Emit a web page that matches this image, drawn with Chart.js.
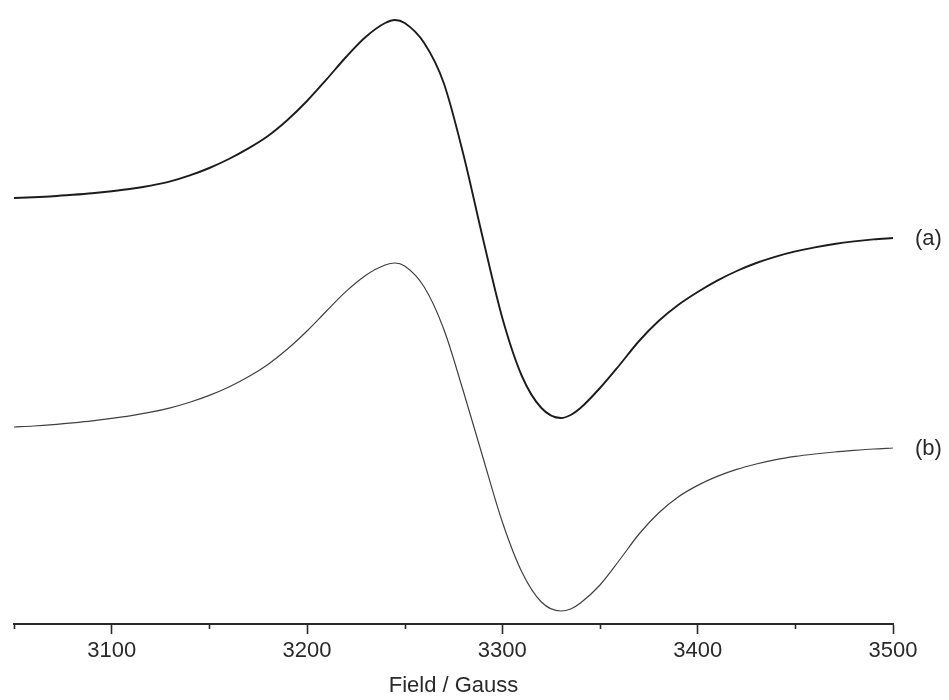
<!DOCTYPE html>
<html>
<head>
<meta charset="utf-8">
<title>EPR spectrum</title>
<script src="https://cdn.jsdelivr.net/npm/chart.js@4.4.1/dist/chart.umd.min.js"></script>
<style>
  html, body { margin: 0; padding: 0; background: #ffffff; }
  #wrap { width: 949px; height: 700px; }
</style>
</head>
<body>
<div id="wrap"><canvas id="epr" width="949" height="700"></canvas></div>
<script>
// Magnetic field (Gauss) at which each intensity is sampled
const field = [3050, 3060, 3070, 3080, 3090, 3100, 3110, 3120, 3130, 3140,
               3150, 3160, 3170, 3180, 3190, 3200, 3210, 3220, 3230, 3240,
               3245, 3250, 3260, 3270, 3280, 3290, 3300, 3310, 3320, 3330,
               3335, 3340, 3350, 3360, 3370, 3380, 3390, 3400, 3410, 3420,
               3430, 3440, 3450, 3460, 3470, 3480, 3490, 3500];

// Experimental first-derivative signal, arbitrary units (offset upward)
const spectrumA = [213, 213.4, 213.9, 214.6, 215.4, 216.4, 217.6, 219.2, 221.3, 224.3,
                   228, 232.5, 237.8, 244, 252, 261.5, 272.3, 283.5, 293.5, 300.5,
                   302, 300.5, 290.5, 270.5, 235, 193, 153, 124, 108, 103,
                   104.5, 108, 118, 129.5, 141.5, 151.5, 159.5, 166, 171.7, 176.5,
                   180.5, 183.7, 186.3, 188.3, 190, 191.3, 192.3, 193];

// Simulated first-derivative signal, arbitrary units
const spectrumB = [98.5, 99, 99.7, 100.6, 101.6, 102.8, 104.2, 105.9, 108.1, 110.9,
                   114.3, 118.5, 123.6, 129.8, 137.5, 146.5, 156.5, 166.3, 174.3, 179.5,
                   180.5, 179, 168.5, 147.5, 116.5, 83.5, 51, 26, 11, 6.5,
                   7.5, 10.5, 19.5, 32, 45, 55.5, 63.5, 69.3, 73.8, 77.3,
                   80, 82.2, 83.8, 85, 86, 86.8, 87.5, 88];

const seriesNames = ['(a)', '(b)'];
const fieldTicks = [3050, 3100, 3150, 3200, 3250, 3300, 3350, 3400, 3450, 3500];
const fieldLabels = ['', '3100', '', '3200', '', '3300', '', '3400', '', '3500'];
const axisTitle = 'Field / Gauss';

const FONT = '"Liberation Sans", Arial, Helvetica, sans-serif';
const INK = '#2a2a2a';

function pts(ys) { return field.map((x, i) => ({ x: x, y: ys[i] })); }

// Short unlabelled ticks every 50 G, longer labelled ticks every 100 G
const minorTicks = {
  id: 'minorTicks',
  afterDraw(chart) {
    const sx = chart.scales.x;
    const ctx = chart.ctx;
    ctx.save();
    ctx.strokeStyle = INK;
    ctx.lineWidth = 1.6;
    fieldTicks.forEach((v, i) => {
      if (fieldLabels[i] !== '') return;
      const px = Math.round(sx.getPixelForValue(v)) + 0.5;
      ctx.beginPath();
      ctx.moveTo(px, sx.top);
      ctx.lineTo(px, sx.top + 5);
      ctx.stroke();
    });
    ctx.restore();
  }
};

// Series names written just right of each trace's last point
const endLabels = {
  id: 'endLabels',
  afterDatasetsDraw(chart) {
    const ctx = chart.ctx;
    const sx = chart.scales.x, sy = chart.scales.y;
    ctx.save();
    ctx.font = '22px ' + FONT;
    ctx.fillStyle = INK;
    ctx.textAlign = 'left';
    ctx.textBaseline = 'middle';
    chart.data.datasets.forEach((ds, i) => {
      const last = ds.data[ds.data.length - 1];
      ctx.fillText(seriesNames[i], sx.getPixelForValue(last.x) + 22, sy.getPixelForValue(last.y) + 1);
    });
    ctx.restore();
  }
};

new Chart(document.getElementById('epr'), {
  type: 'line',
  data: {
    datasets: [
      { label: seriesNames[0], data: pts(spectrumA), borderColor: '#1c1c1c', borderWidth: 1.9,
        pointRadius: 0, cubicInterpolationMode: 'monotone', fill: false },
      { label: seriesNames[1], data: pts(spectrumB), borderColor: '#404040', borderWidth: 1.2,
        pointRadius: 0, cubicInterpolationMode: 'monotone', fill: false }
    ]
  },
  options: {
    responsive: false,
    animation: false,
    events: [],
    layout: { padding: { left: 14, right: 56, top: 0, bottom: 0 } },
    plugins: { legend: { display: false }, tooltip: { enabled: false }, title: { display: false } },
    scales: {
      x: {
        type: 'linear',
        min: 3050,
        max: 3500,
        afterBuildTicks(scale) { scale.ticks = fieldTicks.map(v => ({ value: v })); },
        afterFit(scale) { scale.height = 76; },
        border: { display: true, color: INK, width: 2 },
        grid: {
          display: true,
          drawOnChartArea: false,
          drawTicks: true,
          tickLength: 10,
          tickWidth: 1.6,
          tickColor: (c) => (c.tick && c.tick.value % 100 === 0) ? INK : 'rgba(0,0,0,0)'
        },
        ticks: {
          autoSkip: false,
          maxRotation: 0,
          padding: 4,
          color: INK,
          font: { family: FONT, size: 22 },
          callback: (v) => { const i = fieldTicks.indexOf(v); return i >= 0 ? fieldLabels[i] : ''; }
        },
        title: {
          display: true,
          text: axisTitle,
          color: INK,
          font: { family: FONT, size: 22 },
          padding: { top: 0, bottom: 1 }
        }
      },
      y: {
        display: false,
        min: 0,
        max: 312
      }
    }
  },
  plugins: [minorTicks, endLabels]
});
</script>
</body>
</html>
